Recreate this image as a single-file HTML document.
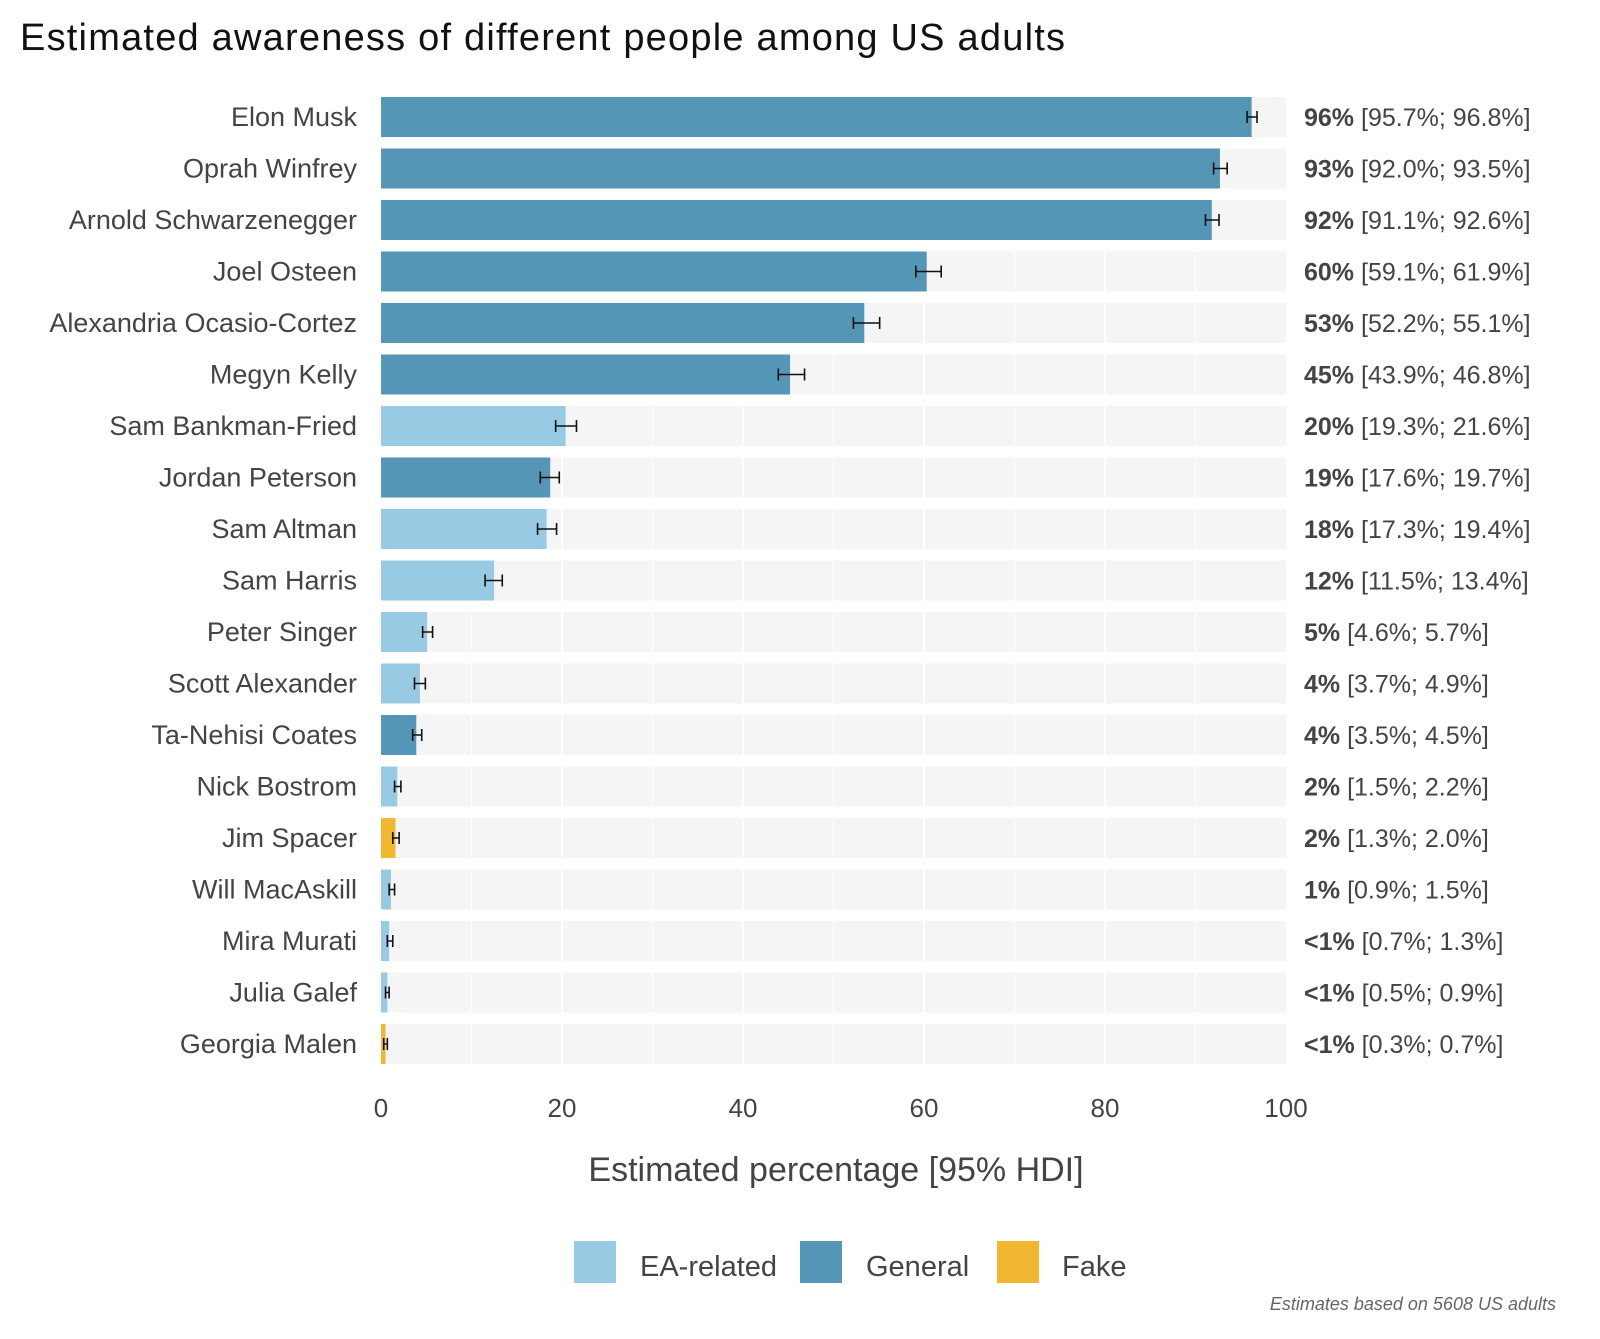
<!DOCTYPE html>
<html><head><meta charset="utf-8">
<style>
body{margin:0;background:#fff;}
svg text{font-family:"Liberation Sans",sans-serif;}
</style></head>
<body>
<svg width="1600" height="1334" viewBox="0 0 1600 1334" xmlns="http://www.w3.org/2000/svg">
<text x="20" y="50" font-size="38" fill="#111" textLength="1045">Estimated awareness of different people among US adults</text>
<g id="grid"></g>
<g id="bars"></g>
<g id="ticks"></g>
<text x="836" y="1181" font-size="34" fill="#444" text-anchor="middle">Estimated percentage [95% HDI]</text>
<g>
<rect x="574" y="1241" width="42" height="42" fill="#98cbe3"/>
<text x="640" y="1276" font-size="29" fill="#444">EA-related</text>
<rect x="800" y="1241" width="42" height="42" fill="#5595b5"/>
<text x="866" y="1276" font-size="29" fill="#444">General</text>
<rect x="997" y="1241" width="42" height="42" fill="#f2b731"/>
<text x="1062" y="1276" font-size="29" fill="#444">Fake</text>
</g>
<text x="1556" y="1310" font-size="18" font-style="italic" fill="#666" text-anchor="end">Estimates based on 5608 US adults</text>
</svg>
<script>
const names=["Elon Musk","Oprah Winfrey","Arnold Schwarzenegger","Joel Osteen","Alexandria Ocasio-Cortez","Megyn Kelly","Sam Bankman-Fried","Jordan Peterson","Sam Altman","Sam Harris","Peter Singer","Scott Alexander","Ta-Nehisi Coates","Nick Bostrom","Jim Spacer","Will MacAskill","Mira Murati","Julia Galef","Georgia Malen"];
const estimates=[96.2,92.7,91.8,60.3,53.4,45.2,20.4,18.7,18.3,12.5,5.1,4.3,3.9,1.8,1.6,1.1,0.9,0.7,0.5];
const lower=[95.7,92.0,91.1,59.1,52.2,43.9,19.3,17.6,17.3,11.5,4.6,3.7,3.5,1.5,1.3,0.9,0.7,0.5,0.3];
const upper=[96.8,93.5,92.6,61.9,55.1,46.8,21.6,19.7,19.4,13.4,5.7,4.9,4.5,2.2,2.0,1.5,1.3,0.9,0.7];
const labels=["96%","93%","92%","60%","53%","45%","20%","19%","18%","12%","5%","4%","4%","2%","2%","1%","<1%","<1%","<1%"];
const groups=["General","General","General","General","General","General","EA","General","EA","EA","EA","EA","General","EA","Fake","EA","EA","EA","Fake"];
const ticks=[0,20,40,60,80,100];
const colors={EA:"#98cbe3",General:"#5595b5",Fake:"#f2b731"};
const NS="http://www.w3.org/2000/svg";
const X0=381,X1=1286,Y0=117,STEP=51.5,BH=40;
const xs=v=>X0+(X1-X0)*v/100;
const ys=i=>Y0+i*STEP;
function mk(tag,attrs,parent){const e=document.createElementNS(NS,tag);for(const k in attrs)e.setAttribute(k,attrs[k]);parent.appendChild(e);return e;}
const grid=document.getElementById('grid'),bars=document.getElementById('bars'),tk=document.getElementById('ticks');
names.forEach((n,i)=>{
  const cy=ys(i);
  const bg=mk('rect',{x:X0,y:cy-BH/2,width:X1-X0,height:BH,fill:'#f5f5f5'},grid);
  
  
  for(let g=10;g<100;g+=10){
    const l=mk('line',{x1:xs(g),x2:xs(g),y1:cy-BH/2,y2:cy+BH/2,stroke:'#fff','stroke-width':g%20==0?2:1},grid);
    
    
  }
  const b=mk('rect',{x:X0,y:cy-BH/2,width:xs(estimates[i])-X0,height:BH,fill:colors[groups[i]]},bars);
  
  
  const eb=mk('path',{d:`M${xs(lower[i])},${cy-6}V${cy+6}M${xs(lower[i])},${cy}H${xs(upper[i])}M${xs(upper[i])},${cy-6}V${cy+6}`,stroke:'#111','stroke-width':1.6,fill:'none'},bars);
  
  
  const t=mk('text',{x:357,y:cy+9,'font-size':27,fill:'#444','text-anchor':'end'},bars);
  t.textContent=n;
  
  
  const v=mk('text',{x:1304,y:cy+9,'font-size':25,fill:'#444'},bars);
  
  
  const s1=mk('tspan',{'font-weight':'bold'},v);s1.textContent=labels[i];
  const s2=mk('tspan',{},v);s2.textContent=` [${lower[i].toFixed(1)}%; ${upper[i].toFixed(1)}%]`;
});
ticks.forEach(t=>{
  const e=mk('text',{x:xs(t),y:1117,'font-size':26,fill:'#444','text-anchor':'middle'},tk);
  e.textContent=t;
  
  
});
</script>
</body></html>
